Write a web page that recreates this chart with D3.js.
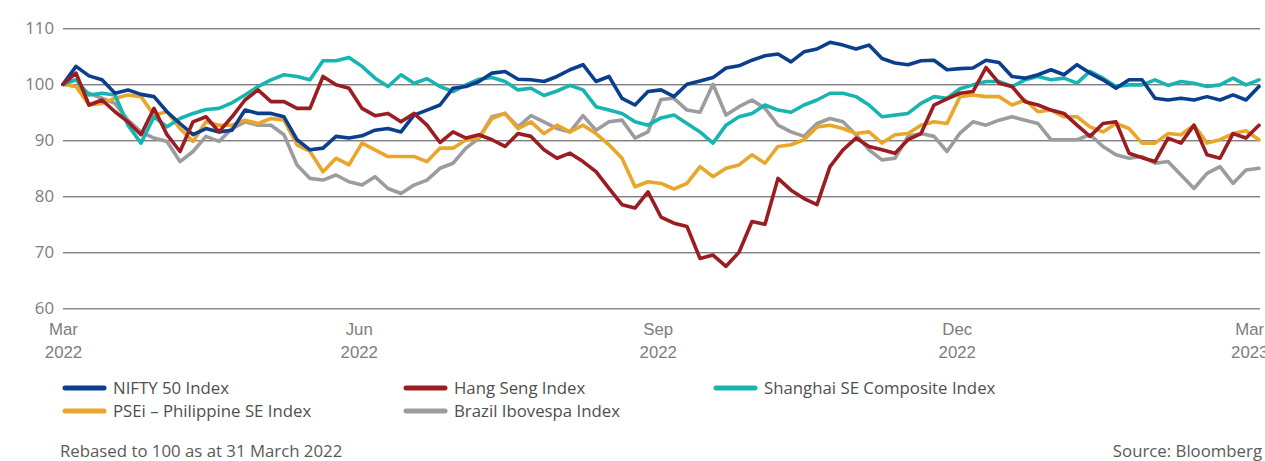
<!DOCTYPE html>
<html>
<head>
<meta charset="utf-8">
<script src="https://cdn.jsdelivr.net/npm/d3@7"></script>
<style>
  body { margin: 0; background: #fff; }
  svg { display: block; font-family: "Open Sans", sans-serif; }
</style>
</head>
<body>
<svg id="svg" width="1265" height="461"></svg>
<script>
// one reading every 4 days from 31 Mar 2022, rebased to 100
var startDate = new Date(2022, 2, 31);
var stepDays = 4;

var nifty = [100, 103.2, 101.5, 100.8, 98.4, 99.0, 98.2, 97.8, 95.1, 93.0,
  91.0, 92.1, 91.5, 91.8, 95.4, 94.8, 94.8, 94.2, 90.1, 88.3,
  88.6, 90.7, 90.4, 90.8, 91.8, 92.1, 91.5, 94.5, 95.4, 96.3,
  99.3, 99.6, 100.5, 102.0, 102.3, 100.9, 100.8, 100.5, 101.4, 102.6,
  103.5, 100.5, 101.4, 97.5, 96.3, 98.7, 99.0, 97.8, 100.0, 100.6,
  101.2, 102.9, 103.3, 104.3, 105.1, 105.4, 104.0, 105.8, 106.3, 107.5,
  107.0, 106.3, 107.0, 104.6, 103.8, 103.5, 104.2, 104.3, 102.6, 102.8,
  102.9, 104.3, 103.9, 101.4, 101.1, 101.7, 102.6, 101.7, 103.5, 102.0,
  100.8, 99.3, 100.8, 100.8, 97.5, 97.2, 97.5, 97.2, 97.8, 97.2,
  98.1, 97.2, 99.6];

var hangSeng = [100, 102.0, 96.3, 97.2, 95.1, 93.3, 91.0, 95.7, 91.0, 88.0,
  93.3, 94.2, 91.5, 94.2, 97.2, 99.0, 96.9, 96.9, 95.7, 95.7,
  101.4, 99.9, 99.3, 95.7, 94.4, 94.8, 93.3, 94.8, 92.7, 89.6,
  91.5, 90.4, 91.0, 90.1, 88.9, 91.2, 90.7, 88.3, 86.8, 87.7,
  86.2, 84.4, 81.4, 78.5, 77.9, 80.8, 76.3, 75.2, 74.6, 68.9,
  69.5, 67.5, 70.0, 75.5, 75.0, 83.2, 81.1, 79.6, 78.5, 85.3,
  88.3, 90.4, 88.9, 88.3, 87.7, 90.1, 91.2, 96.3, 97.4, 98.4,
  98.7, 103.0, 100.2, 99.6, 96.9, 96.3, 95.4, 94.8, 92.7, 90.7,
  93.0, 93.3, 87.7, 86.9, 86.2, 90.4, 89.5, 92.7, 87.4, 86.8,
  91.2, 90.4, 92.7];

var shanghai = [100, 100.8, 98.1, 98.4, 98.1, 92.7, 89.5, 94.2, 92.4, 93.9,
  94.8, 95.5, 95.7, 96.7, 98.1, 99.6, 100.8, 101.7, 101.4, 100.8,
  104.2, 104.2, 104.8, 103.2, 101.1, 99.6, 101.7, 100.2, 101.0, 99.6,
  98.7, 99.9, 100.9, 101.2, 100.5, 99.0, 99.3, 98.0, 98.8, 99.8,
  99.0, 96.0, 95.4, 94.8, 93.3, 92.7, 94.0, 94.5, 93.0, 91.5,
  89.5, 92.7, 94.2, 94.8, 96.3, 95.4, 95.0, 96.3, 97.2, 98.4,
  98.4, 97.8, 96.3, 94.2, 94.5, 94.8, 96.6, 97.8, 97.5, 99.2,
  99.9, 100.5, 100.5, 99.6, 100.8, 101.4, 100.8, 101.1, 100.2, 102.3,
  101.1, 99.6, 99.9, 99.9, 100.8, 99.8, 100.5, 100.2, 99.6, 99.9,
  101.1, 99.9, 100.8];

var psei = [100, 99.6, 96.3, 96.6, 97.5, 98.1, 97.8, 94.5, 95.1, 92.1,
  89.8, 93.3, 92.7, 92.7, 93.6, 93.0, 93.9, 93.6, 89.2, 88.0,
  84.4, 86.8, 85.6, 89.5, 88.3, 87.1, 87.1, 87.1, 86.2, 88.6,
  88.6, 90.1, 90.4, 93.9, 94.8, 92.1, 93.3, 91.2, 92.7, 91.5,
  92.7, 91.2, 89.2, 86.8, 81.7, 82.6, 82.3, 81.3, 82.3, 85.3,
  83.5, 85.0, 85.6, 87.4, 85.9, 88.9, 89.2, 90.1, 92.4, 92.7,
  92.1, 91.2, 91.5, 89.5, 91.0, 91.2, 92.7, 93.3, 93.0, 97.8,
  98.1, 97.8, 97.8, 96.3, 97.2, 95.1, 95.4, 94.2, 94.2, 92.4,
  91.5, 93.0, 92.1, 89.5, 89.5, 91.2, 91.0, 92.7, 89.5, 90.1,
  91.2, 91.7, 90.1];

var brazil = [100, 99.6, 98.4, 97.5, 96.6, 93.6, 91.5, 90.4, 89.8, 86.2,
  88.0, 90.7, 89.8, 92.1, 93.3, 92.7, 92.7, 91.0, 85.6, 83.2,
  82.9, 83.8, 82.6, 82.0, 83.5, 81.4, 80.5, 82.0, 82.9, 85.0,
  85.9, 88.6, 90.4, 94.2, 94.8, 92.4, 94.4, 93.3, 92.1, 91.5,
  94.4, 91.8, 93.3, 93.6, 90.4, 91.5, 97.3, 97.5, 95.4, 95.0,
  100.0, 94.5, 96.0, 97.2, 95.7, 92.7, 91.5, 90.7, 93.0, 93.9,
  93.3, 91.0, 88.3, 86.5, 86.8, 90.7, 91.2, 90.7, 88.0, 91.3,
  93.3, 92.7, 93.6, 94.2, 93.6, 93.0, 90.1, 90.1, 90.1, 91.0,
  88.9, 87.4, 86.8, 87.1, 85.9, 86.2, 83.8, 81.4, 84.1, 85.3,
  82.3, 84.7, 85.0];

var seriesNames = ["NIFTY 50 Index", "Hang Seng Index", "Shanghai SE Composite Index",
  "PSEi \u2013 Philippine SE Index", "Brazil Ibovespa Index"];
var seriesValues = [nifty, hangSeng, shanghai, psei, brazil];
var seriesColors = ["#0b3f8d", "#9b1c21", "#17b5b2", "#e9a62a", "#9c9c9e"];
var drawOrder = [4, 3, 2, 0, 1];

var yTicks = [60, 70, 80, 90, 100, 110];
var tickDates = [new Date(2022, 2, 31), new Date(2022, 5, 30), new Date(2022, 8, 30),
  new Date(2022, 11, 31), new Date(2023, 2, 31)];
var tickMonths = ["Mar", "Jun", "Sep", "Dec", "Mar"];
var tickYears = ["2022", "2022", "2022", "2022", "2023"];

var footLeft = "Rebased to 100 as at 31 March 2022";
var footRight = "Source: Bloomberg";

var fontSize = "16.8px";

var dates = nifty.map(function(d, i) { return d3.timeDay.offset(startDate, i * stepDays); });

var svg = d3.select("#svg");

var x = d3.scaleTime()
    .domain([startDate, dates[dates.length - 1]])
    .range([63, 1259]);
var y = d3.scaleLinear()
    .domain([60, 110])
    .range([308.3, 28.3]);

//////// GRID + Y AXIS //////////
var yAxis = svg.append("g")
    .attr("transform", "translate(63,0)")
    .call(d3.axisLeft(y).tickValues(yTicks).tickSize(-1197).tickPadding(9));
yAxis.select(".domain").remove();
yAxis.selectAll(".tick line")
    .attr("stroke", function(d) { return d == 60 ? "#8c8c8c" : "#4a4a4a"; })
    .attr("stroke-width", function(d) { return d == 60 ? 1.6 : 1; });
yAxis.selectAll(".tick text")
    .attr("fill", "#7d7d7d")
    .attr("font-size", fontSize)
    .attr("font-family", "Open Sans, sans-serif");

//////// X AXIS //////////
var xAxis = svg.append("g")
    .attr("transform", "translate(0,309)")
    .call(d3.axisBottom(x).tickValues(tickDates).tickSize(0).tickFormat(""));
xAxis.select(".domain").remove();
xAxis.selectAll(".tick").each(function(d, i) {
    var t = d3.select(this).append("text")
        .attr("fill", "#7d7d7d")
        .attr("font-size", fontSize)
        .attr("text-anchor", "middle");
    t.append("tspan").attr("x", 0).attr("y", 26).text(tickMonths[i]);
    t.append("tspan").attr("x", 0).attr("y", 49).text(tickYears[i]);
});

//////// LINES //////////
var line = d3.line()
    .x(function(d, i) { return x(dates[i]); })
    .y(function(d) { return y(d); });

drawOrder.forEach(function(k) {
    svg.append("path")
        .datum(seriesValues[k])
        .attr("fill", "none")
        .attr("stroke", seriesColors[k])
        .attr("stroke-width", 3.6)
        .attr("stroke-linejoin", "round")
        .attr("stroke-linecap", "round")
        .attr("d", line);
});

//////// LEGEND //////////
var legendPos = [[63, 388], [404, 388], [714, 388], [63, 411], [404, 411]];
var legend = svg.append("g");
seriesNames.forEach(function(name, i) {
    var p = legendPos[i];
    legend.append("line")
        .attr("x1", p[0] + 2).attr("x2", p[0] + 41)
        .attr("y1", p[1]).attr("y2", p[1])
        .attr("stroke", seriesColors[i])
        .attr("stroke-width", 5)
        .attr("stroke-linecap", "round");
    legend.append("text")
        .attr("x", p[0] + 50)
        .attr("y", p[1] + 6)
        .attr("fill", "#4f4f4f")
        .attr("font-size", fontSize)
        .text(name);
});

//////// FOOTER //////////
svg.append("text")
    .attr("x", 60).attr("y", 457)
    .attr("fill", "#5a5a5a")
    .attr("font-size", fontSize)
    .text(footLeft);
svg.append("text")
    .attr("x", 1262).attr("y", 457)
    .attr("text-anchor", "end")
    .attr("fill", "#5a5a5a")
    .attr("font-size", fontSize)
    .text(footRight);
</script>
</body>
</html>
